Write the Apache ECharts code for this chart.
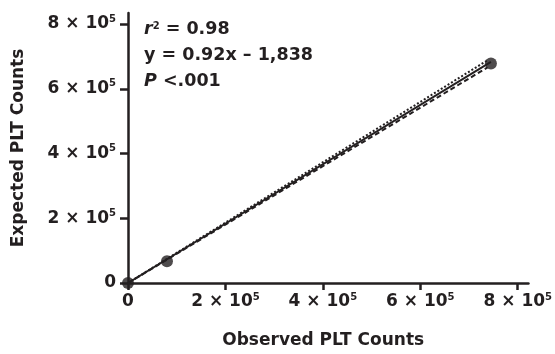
<!DOCTYPE html>
<html><head><meta charset="utf-8">
<script src="https://cdn.jsdelivr.net/npm/echarts@6/dist/echarts.min.js"></script>
<style>html,body{margin:0;padding:0;background:#fff}#c{width:555px;height:354px}</style>
</head><body><div id="c"></div>
<script>
// Data
const points = [[0, 0], [80000, 67000], [745000, 678000]];
const regressionLine = [[0, 0], [745000, 683000]];
const upperLine = [[0, 0], [738000, 688000]];
const lowerLine = [[0, 0], [738000, 666000]];
const tickValues = [0, 200000, 400000, 600000, 800000];
const tickLabels = ['0', '2 × 10|5', '4 × 10|5', '6 × 10|5', '8 × 10|5'];

const C = '#231f20';
const FONT = 'DejaVu Sans, sans-serif';
const FS = 17;
function fmt(v) {
  const i = tickValues.indexOf(v);
  if (i < 0) return '';
  const t = tickLabels[i];
  if (t.indexOf('|') < 0) return '{n|' + t + '}';
  const p = t.split('|');
  return '{n|' + p[0] + '}{s|' + p[1] + '}';
}
const rich = {
  n: {fontSize: FS, fontWeight: 'bold', color: C, fontFamily: FONT, lineHeight: 20},
  s: {fontSize: 10, fontWeight: 'bold', color: C, fontFamily: FONT, lineHeight: 14, verticalAlign: 'top'}
};
const chart = echarts.init(document.getElementById('c'));
chart.setOption({
  animation: false,
  grid: {left: 128, top: 13, right: 24, bottom: 68, containLabel: false},
  xAxis: {
    type: 'value', min: 0, max: 822000,
    name: 'Observed PLT Counts', nameLocation: 'middle', nameGap: 49,
    nameTextStyle: {fontSize: FS, fontWeight: 'bold', color: C, fontFamily: FONT, padding: [0, 10, 0, 0]},
    axisLine: {lineStyle: {color: C, width: 2.5}},
    axisTick: {show: true, length: 7, lineStyle: {color: C, width: 2.5}, customValues: tickValues},
    axisLabel: {customValues: tickValues, formatter: fmt, rich: rich, margin: 9},
    splitLine: {show: false}
  },
  yAxis: {
    type: 'value', min: 0, max: 834000,
    name: 'Expected PLT Counts', nameLocation: 'middle', nameGap: 101, nameRotate: 90,
    nameTextStyle: {fontSize: FS, fontWeight: 'bold', color: C, fontFamily: FONT},
    axisLine: {show: true, lineStyle: {color: C, width: 2.5}},
    axisTick: {show: true, length: 8, lineStyle: {color: C, width: 2.5}, customValues: tickValues},
    axisLabel: {customValues: tickValues, formatter: fmt, rich: rich, margin: 12},
    splitLine: {show: false}
  },
  graphic: [{
    type: 'text', left: 144, top: 16,
    style: {
      text: '{i|r}{s|2}{b| = 0.98}\n{b|y = 0.92x – 1,838}\n{i|P}{b| <.001}',
      rich: {
        b: {fontSize: 17.5, fontWeight: 'bold', fill: C, fontFamily: FONT, lineHeight: 26},
        i: {fontSize: 17.5, fontWeight: 'bold', fontStyle: 'italic', fill: C, fontFamily: FONT, lineHeight: 26},
        s: {fontSize: 10, fontWeight: 'bold', fill: C, fontFamily: FONT, lineHeight: 14, padding: [5, 0, 0, 0], verticalAlign: 'top'}
      }
    }
  }],
  series: [
    {type: 'line', data: upperLine, symbol: 'none', lineStyle: {color: C, width: 2, type: [2, 2]}, z: 2},
    {type: 'line', data: lowerLine, symbol: 'none', lineStyle: {color: C, width: 2, type: [5, 3]}, z: 2},
    {type: 'line', data: regressionLine, symbol: 'none', lineStyle: {color: C, width: 2}, z: 3},
    {type: 'scatter', data: points, symbolSize: 12, itemStyle: {color: C}, z: 4}
  ]
});
</script></body></html>
